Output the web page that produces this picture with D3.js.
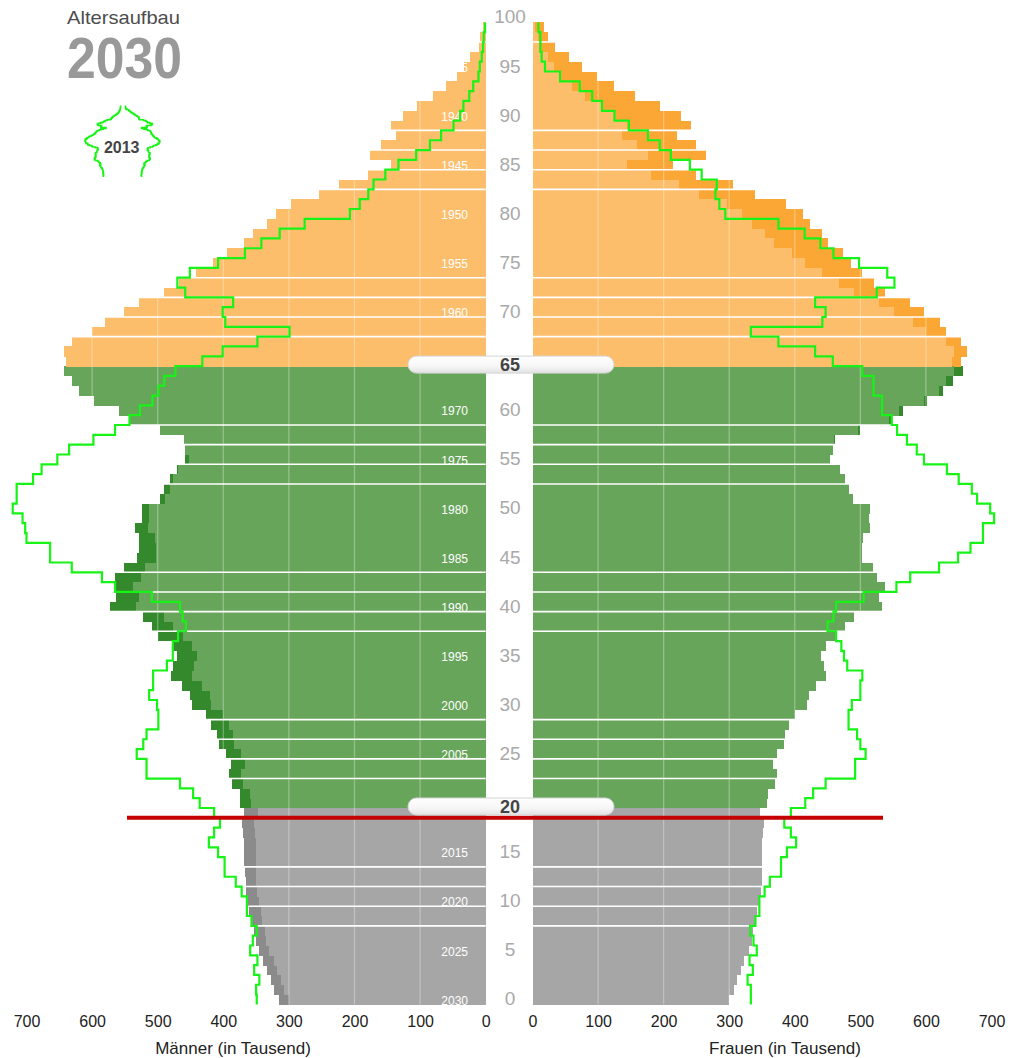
<!DOCTYPE html>
<html><head><meta charset="utf-8">
<script src="https://cdn.jsdelivr.net/npm/d3@7"></script>
<style>
html,body{margin:0;padding:0;background:#fff;}
svg{display:block;font-family:"Liberation Sans",Arial,Helvetica,sans-serif;}
</style></head><body>
<svg id="chart" width="1015" height="1058"></svg>
<script>
// ---------- DATA (in thousands, index = age 0..99) ----------
const ages = d3.range(0, 100);
const men2030 = [
 315,322,327,333,339,346,350,353,358,361, 363,365,366,367,368,368,369,370,371,368,
 375,375,386,391,389,396,407,410,418,427, 448,451,463,480,477,471,476,499,508,523,
 572,564,563,565,551,531,529,529,535,524, 524,497,490,482,471,459,458,460,497,544,
 559,597,620,630,643,640,643,630,600,581, 551,528,490,467,442,416,395,368,355,334,
 319,297,254,223,180,144,176,160,137,144, 126,105,80,60,43,33,24,10,9,4];
const women2030 = [
 300,307,312,318,323,330,335,336,341,343, 346,348,350,350,350,350,350,352,353,347,
 358,359,370,373,367,373,384,385,391,400, 419,421,433,448,444,440,448,462,476,490,
 533,529,538,526,519,503,502,504,515,513, 514,489,482,476,469,453,459,462,499,547,
 565,602,626,642,657,654,663,654,631,622, 597,576,537,521,503,485,474,450,442,423,
 412,387,339,306,250,214,265,249,221,242, 226,194,156,124,98,75,55,34,24,17];
const men2013 = [
 349,350,345,353,348,359,355,349,357,364, 364,372,381,398,398,408,422,414,405,414,
 436,446,466,517,517,532,522,517,499,499, 501,513,507,507,486,477,477,469,457,462,
 466,509,565,585,631,664,664,700,702,706, 721,715,715,690,677,653,635,598,565,543,
 527,508,499,490,473,432,401,348,299,397, 401,385,458,470,451,408,367,342,314,276,
 207,192,179,171,153,133,106,85,68,49, 39,34,25,19,11,9,6,4,3,1];
const women2013 = [
 333,333,328,336,331,342,337,332,340,346, 346,354,362,379,379,388,402,394,384,394,
 416,428,447,492,492,508,500,495,482,482, 487,500,500,503,480,475,471,463,450,459,
 463,505,555,576,620,649,668,687,687,704, 698,678,670,650,632,597,586,571,556,548,
 533,533,520,520,503,458,431,375,333,442, 447,431,525,552,541,498,459,439,415,375,
 294,285,279,281,258,240,211,194,176,147, 125,106,91,72,42,19,14,12,12,9];
const ageTicks = d3.range(0, 101, 5);
const birthYears = d3.range(1935, 2031, 5);
const valueTicks = [0, 100, 200, 300, 400, 500, 600, 700];
const gridValues = [100, 200, 300, 400, 500, 600];
const separatorAges = [8,10,12,14, 23,25,27,29, 38,40,42,44, 53,55,57,59, 68,70,72,74, 83,85,87,89, 98];
const sliderAges = [65, 20];
const redLineAge = 19;
const projYear = 2030, baseYear = 2013;

// ---------- SCALES ----------
const svg = d3.select("#chart");
const y = d3.scaleLinear().domain([0, 100]).range([1004.4, 22.4]);
const xL = d3.scaleLinear().domain([0, 700]).range([485.7, 26.5]);
const xR = d3.scaleLinear().domain([0, 700]).range([532.5, 991.5]);
const band = y(0) - y(1);

const grp = a => a >= 65 ? "old" : (a >= 20 ? "mid" : "young");
const col = {
  old:   {light: "#FDBE6B", dark: "#FBA735"},
  mid:   {light: "#67A55A", dark: "#33892B"},
  young: {light: "#A6A6A6", dark: "#8B8B8B"}
};
const data = ages.map(a => ({a, m: men2030[a], f: women2030[a], lo: Math.min(men2030[a], women2030[a])}));

// ---------- BARS ----------
const gB = svg.append("g").attr("shape-rendering", "crispEdges");
function bars(cls, xs, key, shade) {
  gB.selectAll("rect." + cls).data(data).join("rect").attr("class", cls)
    .attr("x", d => Math.min(xs(0), xs(d[key])))
    .attr("y", d => y(d.a + 1))
    .attr("width", d => Math.abs(xs(d[key]) - xs(0)))
    .attr("height", band + 0.4)
    .attr("fill", d => col[grp(d.a)][shade]);
}
bars("ld", xL, "m", "dark");
bars("ll", xL, "lo", "light");
bars("rd", xR, "f", "dark");
bars("rl", xR, "lo", "light");

// vertical grid lines
const gG = svg.append("g");
gridValues.forEach(v => {
  [xL, xR].forEach(xs => {
    gG.append("line").attr("x1", xs(v)).attr("x2", xs(v))
      .attr("y1", y(100)).attr("y2", y(0))
      .attr("stroke", "#fff").attr("stroke-opacity", 0.3).attr("stroke-width", 1.3);
  });
});

// horizontal separators
const gS = svg.append("g");
separatorAges.forEach(a => {
  gS.append("line").attr("x1", xL(700)).attr("x2", xL(0)).attr("y1", y(a)).attr("y2", y(a))
    .attr("stroke", "#fff").attr("stroke-width", 1.6);
  gS.append("line").attr("x1", xR(0)).attr("x2", xR(700)).attr("y1", y(a)).attr("y2", y(a))
    .attr("stroke", "#fff").attr("stroke-width", 1.6);
});

// birth-year labels
svg.append("g").selectAll("text").data(birthYears).join("text")
  .attr("x", 468).attr("y", d => (y(projYear - d) + y(projYear - d + 1)) / 2 + 1)
  .attr("dy", "0.35em").attr("text-anchor", "end")
  .attr("font-size", 12).attr("fill", "#fff").text(d => d);

// 2013 outline
function stepPts(vals, xs, ys) {
  const pts = [];
  for (let a = vals.length - 1; a >= 0; a--) {
    pts.push([xs(vals[a]), ys(a + 1)]);
    pts.push([xs(vals[a]), ys(a)]);
  }
  return pts;
}
const line = d3.line();
const outlineColor = "#17F317";
svg.append("path").attr("d", line(stepPts(men2013, xL, y)))
  .attr("fill", "none").attr("stroke", outlineColor).attr("stroke-width", 2.2);
svg.append("path").attr("d", line(stepPts(women2013, xR, y)))
  .attr("fill", "none").attr("stroke", outlineColor).attr("stroke-width", 2.2);

// red line
svg.append("line").attr("x1", 127).attr("x2", 883).attr("y1", y(redLineAge)).attr("y2", y(redLineAge))
  .attr("stroke", "#C40000").attr("stroke-width", 4);

// sliders
const defs = svg.append("defs");
const gradient = defs.append("linearGradient").attr("id", "sl").attr("x1", 0).attr("x2", 0).attr("y1", 0).attr("y2", 1);
gradient.append("stop").attr("offset", "0%").attr("stop-color", "#ffffff");
gradient.append("stop").attr("offset", "60%").attr("stop-color", "#f6f6f6");
gradient.append("stop").attr("offset", "100%").attr("stop-color", "#e2e2e2");
sliderAges.forEach(a => {
  const cy = y(a) - 1.5;
  svg.append("rect").attr("x", 408).attr("y", cy - 8.5).attr("width", 206).attr("height", 17)
    .attr("rx", 8.5).attr("fill", "url(#sl)").attr("stroke", "#d4d4d4").attr("stroke-width", 1);
});

// age labels
svg.append("g").selectAll("text").data(ageTicks).join("text")
  .attr("x", 510).attr("y", d => sliderAges.includes(d) ? y(d) - 1.5 : y(d) - 5.8)
  .attr("dy", "0.36em").attr("text-anchor", "middle")
  .attr("font-size", d => sliderAges.includes(d) ? 18 : 19)
  .attr("font-weight", d => sliderAges.includes(d) ? "bold" : "normal")
  .attr("fill", d => sliderAges.includes(d) ? "#444" : "#a9a9a9")
  .text(d => d);

// axes
function axis(xs, title, cx) {
  const g = svg.append("g").attr("transform", "translate(0,1015.5)")
    .call(d3.axisBottom(xs).tickValues(valueTicks).tickSize(0).tickPadding(0));
  g.select(".domain").remove();
  g.selectAll("text").attr("font-size", 16).attr("fill", "#222")
    .attr("font-family", '"Liberation Sans",Arial,sans-serif');
  svg.append("text").attr("x", cx).attr("y", 1054).attr("text-anchor", "middle")
    .attr("font-size", 17).attr("fill", "#222").text(title);
}
axis(xL, "Männer (in Tausend)", 233);
axis(xR, "Frauen (in Tausend)", 785);

// title
svg.append("text").attr("x", 67).attr("y", 24).attr("font-size", 19).attr("fill", "#4d4d4d")
  .attr("textLength", 113).attr("lengthAdjust", "spacingAndGlyphs").text("Altersaufbau");
svg.append("text").attr("x", 67).attr("y", 78).attr("font-size", 57).attr("font-weight", "bold")
  .attr("fill", "#999").attr("textLength", 115).attr("lengthAdjust", "spacingAndGlyphs").text(projYear);

// mini 2013 inset
const my = d3.scaleLinear().domain([0, 100]).range([177, 105.5]);
const mxL = d3.scaleLinear().domain([0, 700]).range([120.7, 86]);
const mxR = d3.scaleLinear().domain([0, 700]).range([125, 159.7]);
svg.append("path").attr("d", line(stepPts(men2013, mxL, my)))
  .attr("fill", "none").attr("stroke", outlineColor).attr("stroke-width", 1.6);
svg.append("path").attr("d", line(stepPts(women2013, mxR, my)))
  .attr("fill", "none").attr("stroke", outlineColor).attr("stroke-width", 1.6);
svg.append("text").attr("x", 121.7).attr("y", 153).attr("text-anchor", "middle")
  .attr("font-size", 16).attr("font-weight", "bold").attr("fill", "#444").text(baseYear);
</script>
</body></html>
